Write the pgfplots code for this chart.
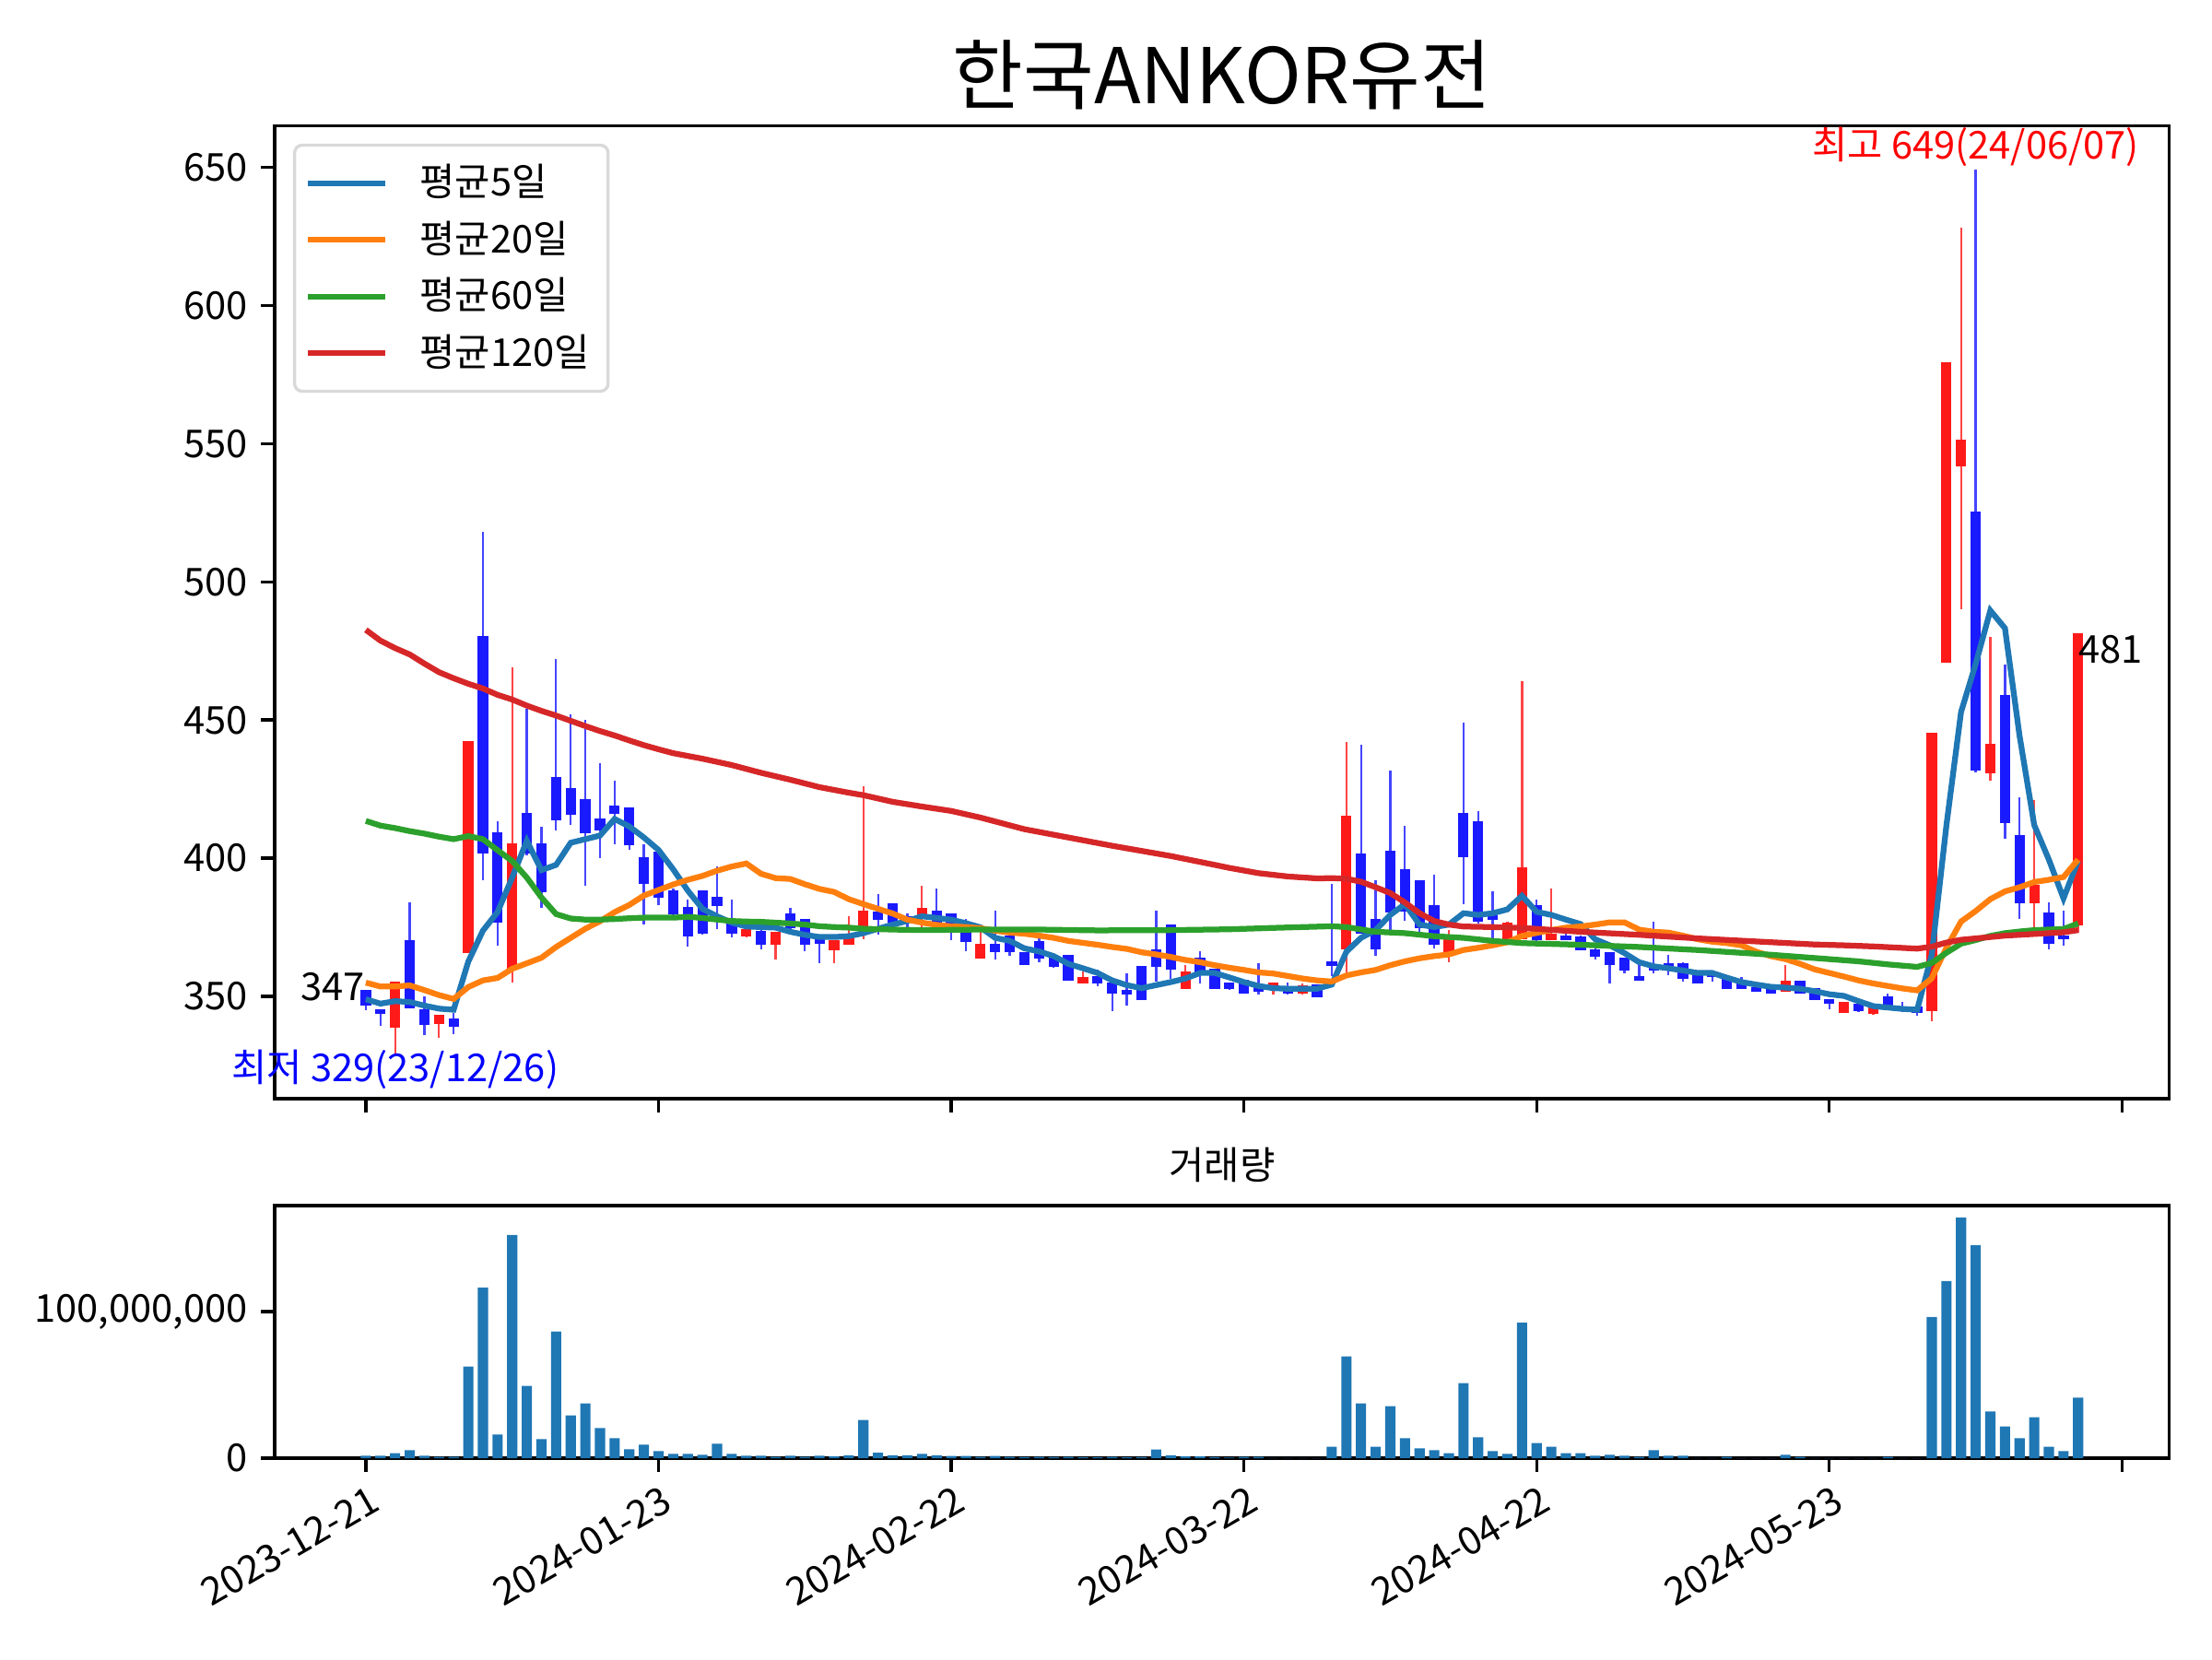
\documentclass[border=0pt]{standalone}
\usepackage{fontspec}
\setmainfont{Noto Sans CJK KR}
\usepackage{pgfplots}
\usepackage{pgfplotstable}
\pgfplotsset{compat=1.18}
\definecolor{maA}{HTML}{1F77B4}
\definecolor{maB}{HTML}{FF7F0E}
\definecolor{maC}{HTML}{2CA02C}
\definecolor{maD}{HTML}{D62728}
\definecolor{cRed}{HTML}{FF1A1A}
\definecolor{cBlue}{HTML}{1A1AFF}
\definecolor{wRed}{HTML}{FF4545}
\definecolor{wBlue}{HTML}{4545FF}

\pgfplotstableread{
i o h l c
2 339 355 329 355
5 340.5 343 335 343
7 366 442 366 442
10 360 469 355 405
26 372 374.5 371.5 374
28 369 373 363.5 373
32 367 370 362 370
33 369 379 369 372
34 375 426 370.7 380.6
38 379 390 375 381.5
42 364 373.5 364 368.5
49 355.2 359 355.2 356.5
56 353.2 361.3 353.2 358.5
62 353.5 355 350.8 354.6
64 351.3 354.6 350.8 353.5
67 367.4 442 358.5 415
74 366.2 374 362.4 370.7
78 370.9 377 370 376.4
79 371.2 464 371 396.3
81 370.9 389 370.5 372.3
97 352.1 361.3 352 355.4
101 344.4 348 344.4 347.7
103 344 346 343.5 345.5
107 345 445 341 445
108 471 579 471 579
109 542 628 490 551
111 431 480 428 441
114 384 421 374 390
117 376 481 373 481
}\upT

\pgfplotstableread{
i o h l c
0 352 352.5 345 347
1 345 345.5 339.5 344
3 370 384 346 346
4 345 350 336 340
6 341.5 344 336.5 339.5
8 480 518 392 402
9 409 413.5 368.5 377
11 416 454 401 402
12 405 411.5 382 388
13 429 472 410 414
14 425 452 412 416
15 421 450 390 409.5
16 414 434.5 400 410.5
17 418.5 428 405 416.5
18 418 418.5 403 405
19 400 405 376 391
20 402 404 383 386
21 388 389 379 380
22 382 385 368 372
23 388 388.5 372.5 373
24 385.6 397 374.5 383
25 376 385 371.5 373
27 373.4 374 367 369
29 379.5 382 374 375
30 377.5 378 366.5 369
31 371 371.5 362 369.3
35 380.4 387 372.3 378
36 383.4 383.5 377 377
37 378.5 380 375 377.5
39 380.6 389 376.7 376.7
40 379.5 379.5 370.4 375.6
41 375.6 378 366.5 370
43 368.7 381 363.5 366.3
44 371.6 371.6 364.6 366.3
45 365.7 365.7 361.5 361.8
46 369.6 371 362.4 364
47 364 364 360.5 361
48 364.6 364.6 356 356
50 357 359.6 353.6 355
51 354.7 354.7 344.7 351.3
52 352 358.3 346.6 351
53 360.7 360.7 349 349
54 366.8 381 355.4 361
55 375.7 375.7 356.5 360
57 363.5 366.3 354.7 358.5
58 359.6 360 353 353
59 354.7 355 352.5 353
60 355.8 355.8 351 351.3
61 354 362 350.6 352
63 352.4 355.2 350.8 351.3
65 354 354 350 350.2
66 362.4 390.8 357.4 361.3
68 401.4 441 372.9 373
69 377.5 392 364.6 367.4
70 402.4 431.7 374.2 380.8
71 395.5 411.8 377.3 381.2
72 391.5 391.5 371.6 375
73 382.6 394 367.4 369
75 416 449 383.4 400.7
76 413 417 376.4 377.3
77 379 388 370.7 378
80 382.6 385 370 370.9
82 371.8 372.8 370.7 370.9
83 371.2 372 366.8 367.1
84 366.8 368 363.5 364.9
85 365.7 365.7 354.6 361.8
86 363.8 364 358.5 359.8
87 357 361.3 355.8 356
88 361 377 358.5 359.8
89 361.8 365 357.6 360.7
90 361.6 362.4 355.4 356.9
91 358 358 355 355.2
92 358.3 358.5 355.4 357.4
93 356.3 356.8 352.8 353
94 354.6 357.2 352.8 353
95 353 353.5 351.7 352.1
96 353.5 353.5 351.3 351.3
98 355.4 355.4 351.3 351.3
99 352.8 353 348.8 349.1
100 348.8 349 345.5 347.7
102 347 347.5 344.5 345
104 349.5 351 345.5 346
105 346 348 344.5 345
106 346 346.5 343 344.5
110 525 649 431 432
112 458.5 470 407 413
113 408 422 378 384
115 380 384 367 369.5
116 371.5 381 368.5 371
}\dnT

\pgfplotstableread{
i v
0 349
1 347.4
2 348.3
3 348
4 346.7
5 345.6
6 345.2
7 362.6
8 373.8
9 380.5
10 393
11 406.3
12 395.7
13 397.6
14 405.6
15 406.9
16 408.2
17 414.2
18 411.5
19 407.5
20 403
21 396
22 388.3
23 381.7
24 379
25 376.7
26 375.3
27 375.1
28 374.9
29 373.4
30 372.3
31 371.5
32 371.5
33 371.8
34 372.9
35 374.5
36 376
37 377.3
38 379
39 378.4
40 377.8
41 376.5
42 375
43 371.2
44 370.1
45 367.4
46 366.3
47 364.6
48 361.8
49 360.2
50 358.5
51 355.8
52 354.1
53 353
54 354.1
55 355.2
56 356.5
57 358.5
58 358.5
59 356.9
60 355.2
61 353.8
62 353
63 352.8
64 352.8
65 352.8
66 354.3
67 366.2
68 371.2
69 374
70 379.5
71 383.4
72 376
73 375.1
74 376
75 380.1
76 379.5
77 380.1
78 381.5
79 386.4
80 380.6
81 379.5
82 377.8
83 376.2
84 370.7
85 368.5
86 365.7
87 362.4
88 360.9
89 360.2
90 359.4
91 358.5
92 358.5
93 356.8
94 355.2
95 354.3
96 353.5
97 353.2
98 352.8
99 351.9
100 350.8
101 350.2
102 348.3
103 346.5
104 346
105 345.5
106 345.2
107 365.2
108 411.9
109 452.9
110 470.3
111 489.6
112 483.2
113 444.2
114 412
115 399.5
116 385.5
117 399.1
}\maFive

\pgfplotstableread{
i v
0 355
1 353.6
2 353.6
3 354
4 352.3
5 350.5
6 349.1
7 353.4
8 355.8
9 356.7
10 360
11 362
12 364
13 367.9
14 371.2
15 374.5
16 377.2
17 380.5
18 383.1
19 386.5
20 388.5
21 390.5
22 392.2
23 393.6
24 395.5
25 397
26 398.1
27 394.4
28 392.8
29 392.5
30 390.6
31 388.9
32 387.8
33 385.2
34 383.4
35 381.7
36 380
37 377.8
38 376.7
39 375.9
40 375.4
41 375.1
42 374.7
43 373.8
44 373.1
45 372.7
46 372
47 371.2
48 370.1
49 369.4
50 368.7
51 367.9
52 367.2
53 366
54 365.2
55 364.3
56 363.2
57 362.4
58 361.3
59 360.4
60 359.6
61 358.7
62 358.3
63 357.4
64 356.5
65 355.8
66 355.4
67 357.6
68 358.7
69 359.6
70 361.3
71 362.7
72 363.8
73 364.6
74 365.2
75 366.8
76 367.6
77 368.5
78 369.6
79 371.9
80 373
81 374
82 374.9
83 375.3
84 376
85 376.8
86 376.8
87 374.2
88 373.4
89 373.1
90 372
91 370.7
92 369.8
93 369.3
94 368.5
95 366.2
96 364.6
97 363.5
98 361.8
99 359.8
100 358.5
101 357.2
102 355.8
103 354.7
104 353.8
105 352.9
106 352.2
107 356.6
108 367.6
109 377.1
110 380.9
111 385.2
112 388
113 389.5
114 391.4
115 392.2
116 393.2
117 399.5
}\maTwenty

\pgfplotstableread{
i v
0 413.5
1 411.8
2 410.9
3 409.8
4 408.9
5 407.8
6 406.9
7 408
8 406.9
9 402.9
10 399
11 393
12 385.8
13 379.8
14 378.2
15 377.8
16 377.8
17 378
18 378.3
19 378.5
20 378.5
21 378.5
22 378.8
23 378.4
24 377.8
25 377.3
26 377.1
27 377
28 376.7
29 376.4
30 376
31 375.4
32 375.1
33 374.9
34 374.5
36 374.2
38 374
42 374.2
46 374.2
50 373.9
55 374
59 374.3
62 374.8
66 375.4
67 375.1
69 373.4
71 372.9
73 371.8
75 371.2
77 370.1
79 369.3
83 368.7
87 367.9
91 366.8
96 365.1
100 363.5
102 362.7
104 361.6
106 360.7
107 362.1
108 365.8
109 369.1
110 370.4
111 371.9
112 372.9
113 373.5
114 374
115 374.2
116 374.4
117 376.4
}\maSixty

\pgfplotstableread{
i v
0 482.6
1 478.7
2 476
3 473.7
4 470.4
5 467.3
6 465.1
7 463.1
8 461.4
9 459.1
10 457.4
11 455.2
12 453.3
13 451.6
14 449.7
15 447.8
16 446
17 444.4
18 442.6
19 440.9
20 439.4
21 438
23 436
25 433.7
27 430.9
29 428.4
31 425.7
33 423.7
34 422.8
36 420.4
38 418.7
40 417.1
42 414.7
45 410.5
48 407.5
51 404.5
55 400.8
58 397.6
59 396.5
61 394.6
63 393.4
65 392.7
66 392.8
67 392.6
68 391.5
69 389.5
70 387.4
71 384
72 380.1
73 377.3
74 376
75 375.3
77 375.1
79 374.8
83 373.4
87 372.3
91 371
95 369.9
99 368.8
101 368.5
103 368.1
106 367.3
107 368
108 369.5
109 370.5
110 371
111 371.5
112 372
113 372.3
114 372.6
115 372.9
116 373.2
117 374
}\maOneTwenty

\pgfplotstableread{
i v
0 1700000
1 1700000
2 3500000
3 5400000
4 1700000
5 1000000
6 1000000
7 62500000
8 116400000
9 16100000
10 152100000
11 49300000
12 13000000
13 86300000
14 29200000
15 37400000
16 20500000
17 13600000
18 6100000
19 9200000
20 4800000
21 2900000
22 2900000
23 2300000
24 9800000
25 2900000
26 1700000
27 1700000
28 1000000
29 1700000
30 1000000
31 1700000
32 1200000
33 2000000
34 26000000
35 3800000
36 2000000
37 2000000
38 3000000
39 2000000
40 1500000
41 1500000
42 1000000
43 1500000
44 1000000
45 800000
46 1000000
47 800000
48 1000000
49 600000
50 600000
51 1000000
52 600000
53 800000
54 6000000
55 2000000
56 1200000
57 1200000
58 800000
59 500000
60 1000000
61 1000000
62 200000
63 200000
64 200000
65 200000
66 7900000
67 69400000
68 37400000
69 7900000
70 35500000
71 13600000
72 6700000
73 5400000
74 3500000
75 51200000
76 14200000
77 4800000
78 2900000
79 92500000
80 10400000
81 7900000
82 3500000
83 3500000
84 1700000
85 2300000
86 1700000
87 1000000
88 5400000
89 1700000
90 1700000
91 200000
92 200000
93 1000000
94 200000
95 200000
96 200000
97 2300000
98 1000000
99 200000
100 200000
101 200000
102 200000
103 200000
104 1000000
105 200000
106 200000
107 96300000
108 120700000
109 164000000
110 145200000
111 31800000
112 21700000
113 13600000
114 28000000
115 7900000
116 4800000
117 41200000
}\volT

\pgfplotsset{
  /pgf/number format/assume math mode=true,
  every axis/.append style={
    scale only axis,
    tick pos=left,
    tick align=outside,
    major tick length=3.5pt,
    tick style={black, line width=0.8pt},
    axis line style={line width=0.8pt},
    ticklabel style={font=\fontsize{10}{12}\selectfont},
  },
}

\begin{document}
\begin{tikzpicture}
\path[use as bounding box] (0,0) rectangle (576pt,432pt);

\begin{axis}[
  name=main,
  at={(71.5pt,145.9pt)}, anchor=south west,
  width=493.4pt, height=253.4pt,
  xmin=-6.235, xmax=123.235, ymin=313, ymax=665,
  xtick={0,20,40,60,80,100,120}, xticklabels={},
  ytick={350,400,450,500,550,600,650},
  clip mode=individual,
  legend cell align=left,
  legend style={at={(0,1)}, anchor=north west, xshift=4.8pt, yshift=-4.7pt,
    draw=black!15, line width=0.8pt, rounded corners=2pt,
    fill=white, fill opacity=0.8, text opacity=1,
    font=\fontsize{10}{12}\selectfont,
    inner xsep=2.8pt, inner ysep=3pt, row sep=1pt},
  legend image code/.code={\draw[#1] (0pt,0pt) -- (20pt,0pt); \path (26.3pt,0pt);},
]
% wicks
\addplot[draw=none, mark=none, forget plot,
  error bars/.cd, y dir=minus, y explicit, error mark=none,
  error bar style={draw=wRed, line width=0.55pt}]
  table[x=i, y=h, y error minus expr={\thisrow{h}-\thisrow{l}}] {\upT};
\addplot[draw=none, mark=none, forget plot,
  error bars/.cd, y dir=minus, y explicit, error mark=none,
  error bar style={draw=wBlue, line width=0.55pt}]
  table[x=i, y=h, y error minus expr={\thisrow{h}-\thisrow{l}}] {\dnT};
% bodies
\addplot[draw=none, mark=none, forget plot,
  error bars/.cd, y dir=both, y explicit, error mark=none,
  error bar style={draw=cRed, line width=2.7pt}]
  table[x=i, y expr={(\thisrow{o}+\thisrow{c})/2}, y error expr={abs(\thisrow{c}-\thisrow{o})/2+0.4}] {\upT};
\addplot[draw=none, mark=none, forget plot,
  error bars/.cd, y dir=both, y explicit, error mark=none,
  error bar style={draw=cBlue, line width=2.7pt}]
  table[x=i, y expr={(\thisrow{o}+\thisrow{c})/2}, y error expr={abs(\thisrow{c}-\thisrow{o})/2+0.4}] {\dnT};
% moving averages
\addplot[maA, line width=1.5pt, mark=none] table[x=i, y=v] {\maFive};
\addlegendentry{평균5일}
\addplot[maB, line width=1.5pt, mark=none] table[x=i, y=v] {\maTwenty};
\addlegendentry{평균20일}
\addplot[maC, line width=1.5pt, mark=none] table[x=i, y=v] {\maSixty};
\addlegendentry{평균60일}
\addplot[maD, line width=1.5pt, mark=none] table[x=i, y=v] {\maOneTwenty};
\addlegendentry{평균120일}
% annotations
\node[anchor=base east, inner sep=0pt, font=\fontsize{10}{12}\selectfont] at (axis cs:0,348.5) {347};
\node[anchor=north, inner sep=0pt, text=blue, font=\fontsize{10}{12}\selectfont] at (axis cs:2,331) {최저 329(23/12/26)};
\node[anchor=south, inner sep=0pt, text=red, font=\fontsize{10}{12}\selectfont] at (axis cs:110,650) {최고 649(24/06/07)};
\node[anchor=north west, inner sep=0pt, font=\fontsize{10}{12}\selectfont] at (axis cs:117,481) {481};
\end{axis}

\begin{axis}[
  name=vol,
  at={(71.5pt,52.3pt)}, anchor=south west,
  width=493.4pt, height=65.8pt,
  xmin=-6.235, xmax=123.235, ymin=0, ymax=172200000,
  xtick={0,20,40,60,80,100,120},
  xticklabels={2023-12-21,2024-01-23,2024-02-22,2024-03-22,2024-04-22,2024-05-23,{}},
  xticklabel style={rotate=30, anchor=north east, inner sep=0pt, yshift=-3pt, xshift=-1pt},
  ytick={0,100000000},
  yticklabels={0,{100,000,000}},
  scaled y ticks=false,
]
\addplot[ybar, bar width=0.7, fill=maA, draw=none] table[x=i, y=v] {\volT};
\end{axis}

\node[anchor=base, font=\fontsize{20}{24}\selectfont] at (318.2pt,405pt) {한국ANKOR유전};
\node[anchor=base, font=\fontsize{10}{12}\selectfont] at (318.2pt,125pt) {거래량};
\end{tikzpicture}
\end{document}
